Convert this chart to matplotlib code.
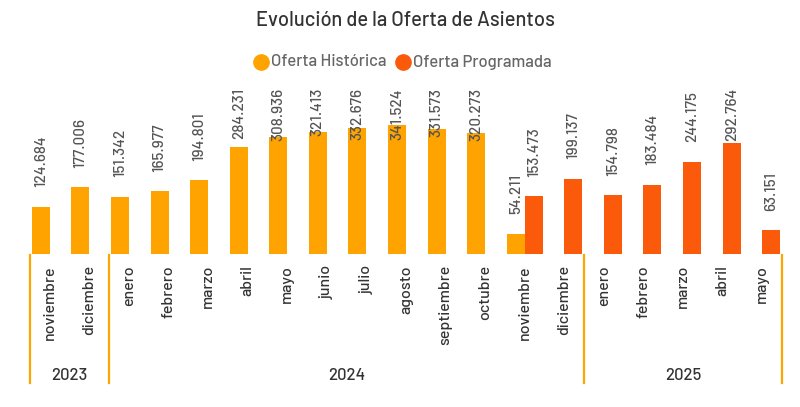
import matplotlib
matplotlib.use("Agg")
import matplotlib.pyplot as plt
from matplotlib.lines import Line2D
import matplotlib.transforms as mtrans
import numpy as np

plt.rcParams['font.family'] = ['Barlow', 'DejaVu Sans']
plt.rcParams['font.weight'] = 500

months = ["noviembre", "diciembre", "enero", "febrero", "marzo", "abril", "mayo",
          "junio", "julio", "agosto", "septiembre", "octubre", "noviembre",
          "diciembre", "enero", "febrero", "marzo", "abril", "mayo"]
years = ["2023", "2024", "2025"]
year_counts = [2, 12, 5]

historica = [124684, 177006, 151342, 165977, 194801, 284231, 308936, 321413,
             332676, 341524, 331573, 320273, 54211,
             None, None, None, None, None, None]
programada = [None, None, None, None, None, None, None, None, None, None, None, None,
              153473, 199137, 154798, 183484, 244175, 292764, 63151]

title = "Evolución de la Oferta de Asientos"
series_names = ["Oferta Histórica", "Oferta Programada"]

C_HIST = "#FFA300"
C_PROG = "#FA5A0A"
C_SEP = "#FFA500"

W, H = 800, 407
fig = plt.figure(figsize=(W / 100, H / 100), dpi=100)
ax_left, ax_right = 30, 782
ax_top, ax_base = 86, 254
ax = fig.add_axes([ax_left / W, (H - ax_base) / H, (ax_right - ax_left) / W, (ax_base - ax_top) / H])
ax.set_xlim(-0.5, len(months) - 0.5)
ax.set_ylim(0, 444400)
for s in ax.spines.values():
    s.set_visible(False)
ax.set_yticks([])

bw = 0.455
x = np.arange(len(months))
texts = []
OFF = 14


def fmt(v):
    return f"{v:,}".replace(",", ".")


for i, v in enumerate(historica):
    if v is None:
        continue
    ax.bar(i - bw / 2, v, width=bw, color=C_HIST, linewidth=0)
    texts.append(ax.annotate(fmt(v), (i - bw / 2, v), xytext=(0, OFF), textcoords="offset points",
                             rotation=90, ha="center", va="bottom", fontsize=11, color="#555555",
                             annotation_clip=False))
for i, v in enumerate(programada):
    if v is None:
        continue
    ax.bar(i + bw / 2, v, width=bw, color=C_PROG, linewidth=0)
    texts.append(ax.annotate(fmt(v), (i + bw / 2, v), xytext=(0, OFF), textcoords="offset points",
                             rotation=90, ha="center", va="bottom", fontsize=11, color="#555555",
                             annotation_clip=False))

ax.set_xticks(x)
ax.set_xticklabels(months, rotation=90, va="top", ha="center", fontsize=11.5, color="#333333")
ax.tick_params(axis="x", length=0, pad=8)

# clamp labels inside the plot top
fig.canvas.draw()
renderer = fig.canvas.get_renderer()
limit_px = (H - 88)
for t in texts:
    bb = t.get_window_extent(renderer)
    if bb.y1 > limit_px:
        shift_pt = (bb.y1 - limit_px) * 72 / 100
        t.xyann = (0, OFF - shift_pt)

# year groups and separators
blend = mtrans.blended_transform_factory(ax.transData, fig.transFigure)
edges = np.concatenate([[-0.5], -0.5 + np.cumsum(year_counts)])
for e in edges:
    fig.add_artist(Line2D([e, e], [(H - 255) / H, (H - 383) / H], transform=blend,
                          color=C_SEP, linewidth=1.6))
for j, yname in enumerate(years):
    cx = (edges[j] + edges[j + 1]) / 2
    fig.text(cx, (H - 375) / H, yname, transform=blend, ha="center", va="center",
             fontsize=12, color="#333333")

# title
fig.text(405 / W, 1 - 21 / H, title, ha="center", va="center", fontsize=14.5, color="#333333")

# legend
ly = 1 - 62 / H
fig.add_artist(Line2D([261 / W], [ly], marker="o", markersize=11, color=C_HIST, linestyle="none"))
fig.text(271 / W, ly, series_names[0], ha="left", va="center", fontsize=12, color="#666666")
fig.add_artist(Line2D([403 / W], [ly], marker="o", markersize=11, color=C_PROG, linestyle="none"))
fig.text(413 / W, ly, series_names[1], ha="left", va="center", fontsize=12, color="#666666")

fig.savefig("out.png", dpi=100)
